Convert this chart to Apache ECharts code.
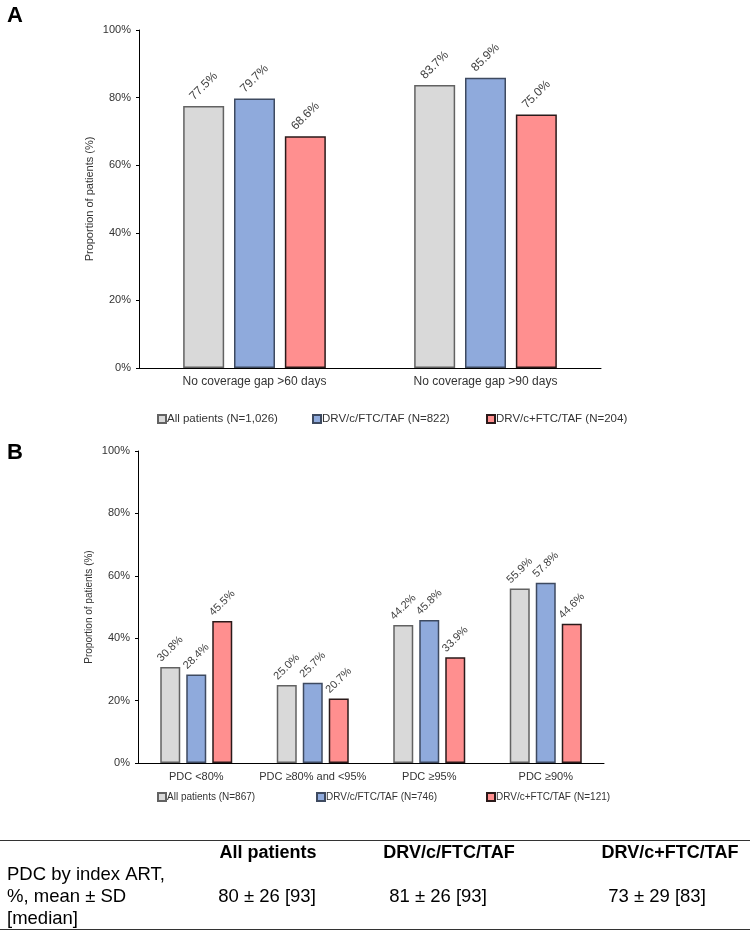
<!DOCTYPE html>
<html>
<head>
<meta charset="utf-8">
<script src="https://cdn.jsdelivr.net/npm/echarts@6/dist/echarts.min.js"></script>
<style>
  html, body { margin: 0; padding: 0; background: #ffffff; }
  #chart { width: 750px; height: 931px; }
</style>
</head>
<body>
<div id="chart"></div>
<script>
// ---- Data ----
const categoriesA = ['No coverage gap >60 days', 'No coverage gap >90 days'];
const allPatientsA = [77.5, 83.7];
const drvFixedA = [79.7, 85.9];
const drvSeparateA = [68.6, 75.0];
const seriesNamesA = ['All patients (N=1,026)', 'DRV/c/FTC/TAF (N=822)', 'DRV/c+FTC/TAF (N=204)'];

const categoriesB = ['PDC <80%', 'PDC \u226580% and <95%', 'PDC \u226595%', 'PDC \u226590%'];
const allPatientsB = [30.8, 25.0, 44.2, 55.9];
const drvFixedB = [28.4, 25.7, 45.8, 57.8];
const drvSeparateB = [45.5, 20.7, 33.9, 44.6];
const seriesNamesB = ['All patients (N=867)', 'DRV/c/FTC/TAF (N=746)', 'DRV/c+FTC/TAF (N=121)'];

const yAxisName = 'Proportion of patients (%)';
const panelLetters = ['A', 'B'];

const tableHeaders = ['All patients', 'DRV/c/FTC/TAF', 'DRV/c+FTC/TAF'];
const tableRowLabel = ['PDC by index ART,', '%, mean \u00b1 SD', '[median]'];
const tableValues = ['80 \u00b1 26 [93]', '81 \u00b1 26 [93]', '73 \u00b1 29 [83]'];

// ---- Styles ----
const FONT = '"Liberation Sans", Arial, sans-serif';
const fills = ['#D9D9D9', '#8FAADC', '#FF8F8F'];
const borders = ['#626262', '#3E4A60', '#2A1A1A'];
const textColor = '#333333';

const chart = echarts.init(document.getElementById('chart'), null, { renderer: 'canvas' });

function valueLabel(size, dist) {
  return {
    show: true,
    position: 'top',
    distance: dist,
    rotate: 45,
    align: 'center',
    verticalAlign: 'middle',
    fontFamily: FONT,
    fontSize: size,
    color: '#404040',
    formatter: p => p.value.toFixed(1) + '%'
  };
}

function makeSeries(names, dataSets, gridIdx, barWidth, barGap, labelSize, labelDist) {
  return names.map((n, i) => ({
    name: n,
    type: 'bar',
    xAxisIndex: gridIdx,
    yAxisIndex: gridIdx,
    data: dataSets[i],
    barWidth: barWidth,
    barGap: barGap,
    itemStyle: { color: fills[i], borderColor: borders[i], borderWidth: 1.5 },
    label: valueLabel(labelSize, labelDist),
    emphasis: { disabled: true },
    animation: false
  }));
}

function yAxisDef(gridIdx, nameSize, nameGap) {
  return {
    type: 'value', gridIndex: gridIdx, min: 0, max: 100, interval: 20,
    name: yAxisName, nameLocation: 'middle', nameGap: nameGap,
    nameMoveOverlap: false,
    nameTextStyle: { fontFamily: FONT, fontSize: nameSize, color: textColor },
    axisLine: { show: true, lineStyle: { color: '#000', width: 1 } },
    axisTick: { show: true, length: 3, lineStyle: { color: '#000' } },
    splitLine: { show: false },
    axisLabel: { fontFamily: FONT, fontSize: 11, color: textColor, margin: 8, formatter: '{value}%' }
  };
}

function xAxisDef(gridIdx, cats, size) {
  return {
    type: 'category', gridIndex: gridIdx, data: cats,
    axisLine: { show: true, lineStyle: { color: '#000', width: 1 } },
    axisTick: { show: false },
    axisLabel: { fontFamily: FONT, fontSize: size, color: textColor, margin: 8, interval: 0 }
  };
}

function legendDefs(names, lefts, top, size) {
  return names.map((n, i) => ({
    data: [n], left: lefts[i], top: top, orient: 'horizontal', padding: 0,
    icon: 'rect', itemWidth: 8, itemHeight: 8, itemGap: 0,
    selectedMode: false,
    textStyle: { fontFamily: FONT, fontSize: size, color: textColor, padding: [0, 0, 0, -4] }
  }));
}

const graphics = [];
panelLetters.forEach((l, i) => {
  graphics.push({
    type: 'text', left: 7, top: i === 0 ? 5 : 442,
    style: { text: l, font: 'bold 22px ' + FONT, fill: '#000' }
  });
});
// table lines
graphics.push({ type: 'line', shape: { x1: 0, y1: 840.5, x2: 750, y2: 840.5 }, style: { stroke: '#333', lineWidth: 1 } });
graphics.push({ type: 'line', shape: { x1: 0, y1: 929.5, x2: 750, y2: 929.5 }, style: { stroke: '#333', lineWidth: 1 } });
const colCenters = [268, 449, 670];
const valueCenters = [267, 438, 657];
tableHeaders.forEach((h, i) => {
  graphics.push({ type: 'text', x: colCenters[i], y: 853,
    style: { text: h, font: 'bold 18px ' + FONT, fill: '#000', align: 'center', verticalAlign: 'middle' } });
});
tableRowLabel.forEach((t, i) => {
  graphics.push({ type: 'text', x: 7, y: 875 + i * 22,
    style: { text: t, font: '18.5px ' + FONT, fill: '#000', align: 'left', verticalAlign: 'middle' } });
});
tableValues.forEach((t, i) => {
  graphics.push({ type: 'text', x: valueCenters[i], y: 897,
    style: { text: t, font: '18.5px ' + FONT, fill: '#000', align: 'center', verticalAlign: 'middle' } });
});

const option = {
  backgroundColor: '#ffffff',
  animation: false,
  grid: [
    { left: 139, top: 30, width: 462, height: 338 },
    { left: 138, top: 451, width: 466, height: 312 }
  ],
  xAxis: [xAxisDef(0, categoriesA, 12), xAxisDef(1, categoriesB, 11)],
  yAxis: [yAxisDef(0, 11, 44), yAxisDef(1, 10, 44)],
  legend: [
    ...legendDefs(seriesNamesA, [157, 312, 486], 413, 11.5),
    ...legendDefs(seriesNamesB, [157, 316, 486], 792, 10)
  ],
  series: [
    ...makeSeries(seriesNamesA, [allPatientsA, drvFixedA, drvSeparateA], 0, 41, '24%', 12, 20),
    ...makeSeries(seriesNamesB, [allPatientsB, drvFixedB, drvSeparateB], 1, 20, '30%', 11, 18)
  ],
  graphic: graphics
};
chart.setOption(option);
</script>
</body>
</html>
